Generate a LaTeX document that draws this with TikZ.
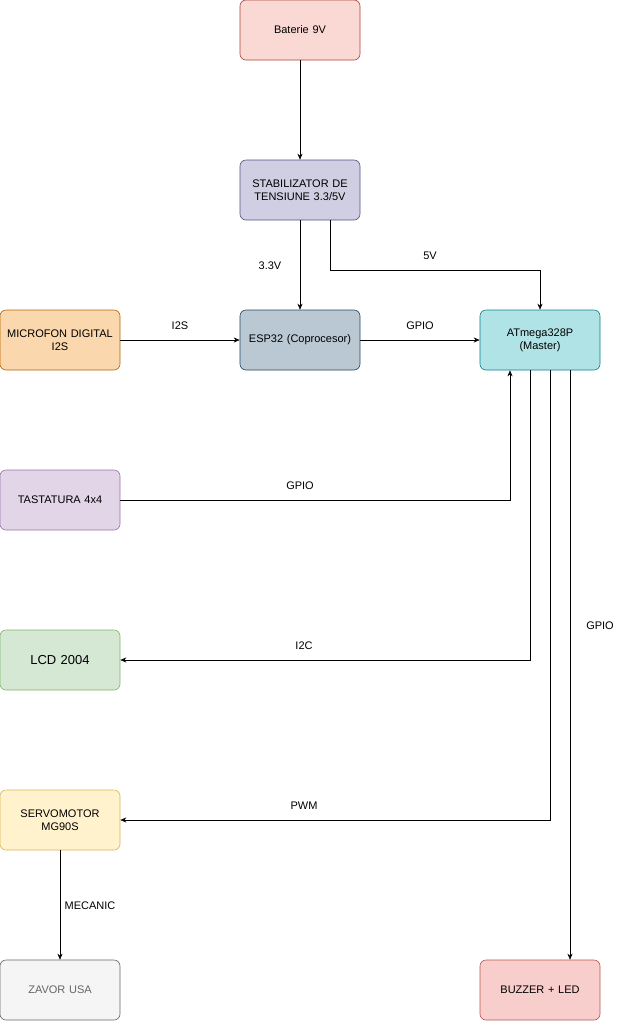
\documentclass[tikz,border=0pt]{standalone}
\usepackage{fontspec}
\setmainfont{Liberation Sans}
\usetikzlibrary{arrows.meta,positioning}
\definecolor{redF}{HTML}{FAD9D5}\definecolor{redD}{HTML}{AE4132}
\definecolor{purF}{HTML}{D0CEE2}\definecolor{purD}{HTML}{56517E}
\definecolor{oraF}{HTML}{FAD7AC}\definecolor{oraD}{HTML}{B46504}
\definecolor{bluF}{HTML}{BAC8D3}\definecolor{bluD}{HTML}{23445D}
\definecolor{cyaF}{HTML}{B0E3E6}\definecolor{cyaD}{HTML}{0E8088}
\definecolor{lavF}{HTML}{E1D5E7}\definecolor{lavD}{HTML}{9673A6}
\definecolor{grnF}{HTML}{D5E8D4}\definecolor{grnD}{HTML}{82B366}
\definecolor{yelF}{HTML}{FFF2CC}\definecolor{yelD}{HTML}{D6B656}
\definecolor{gryF}{HTML}{F5F5F5}\definecolor{gryD}{HTML}{666666}
\definecolor{pnkF}{HTML}{F8CECC}\definecolor{pnkD}{HTML}{B85450}
\begin{document}
\begin{tikzpicture}[
    x=1pt, y=-1pt,
    font=\fontsize{11}{13}\selectfont,
    >={Stealth[length=6pt,width=5pt]},
    block/.style={
        rectangle, rounded corners=6pt, align=center,
        minimum width=120pt, minimum height=60pt,
        text width=118pt, inner sep=1pt, line width=0.6pt
    },
    arrow/.style={->, line width=0.6pt},
    lbl/.style={font=\fontsize{11}{13}\selectfont},
]
  \useasboundingbox (0,0) rectangle (631,1021);
  %––– Blocks –––––––––––––––––––––––––––––––––––––––
  \node (bat)  [block, fill=redF, draw=redD] at (300,30)  {Baterie 9V};
  \node (stab) [block, fill=purF, draw=purD] at (300,190) {STABILIZATOR DE\\TENSIUNE 3.3/5V};
  \node (mic)  [block, fill=oraF, draw=oraD] at (60,340)  {MICROFON DIGITAL\\I2S};
  \node (esp)  [block, fill=bluF, draw=bluD] at (300,340) {ESP32 (Coprocesor)};
  \node (atm)  [block, fill=cyaF, draw=cyaD] at (540,340) {ATmega328P\\(Master)};
  \node (kbd)  [block, fill=lavF, draw=lavD] at (60,500)  {TASTATURA 4x4};
  \node (lcd)  [block, fill=grnF, draw=grnD, font=\fontsize{13}{15}\selectfont] at (60,660) {LCD 2004};
  \node (servo)[block, fill=yelF, draw=yelD] at (60,820)  {SERVOMOTOR\\MG90S};
  \node (lock) [block, fill=gryF, draw=gryD, text=gryD] at (60,990) {ZAVOR USA};
  \node (buz)  [block, fill=pnkF, draw=pnkD] at (540,990) {BUZZER + LED};

  %––– Arrows –––––––––––––––––––––––––––––––––––––––
  \draw[arrow] (bat) -- (stab);
  \draw[arrow] (stab) -- (esp);
  \draw[arrow] ([xshift=30pt]stab.south) |- (540,270) -- (atm.north);
  \draw[arrow] (mic) -- (esp);
  \draw[arrow] (esp) -- (atm);
  \draw[arrow] (kbd.east) -| ([xshift=-30pt]atm.south);
  \draw[arrow] ([xshift=-10pt]atm.south) |- (lcd.east);
  \draw[arrow] ([xshift=10pt]atm.south) |- (servo.east);
  \draw[arrow] ([xshift=30pt]atm.south) -- ([xshift=30pt]buz.north);
  \draw[arrow] (servo) -- (lock);

  %––– Labels –––––––––––––––––––––––––––––––––––––––
  \node[lbl] at (270,266) {3.3V};
  \node[lbl] at (430,256) {5V};
  \node[lbl] at (180,326) {I2S};
  \node[lbl] at (420,326) {GPIO};
  \node[lbl] at (300,486) {GPIO};
  \node[lbl] at (304,646) {I2C};
  \node[lbl] at (304,806) {PWM};
  \node[lbl] at (600,626) {GPIO};
  \node[lbl] at (90,906) {MECANIC};
\end{tikzpicture}
\end{document}
